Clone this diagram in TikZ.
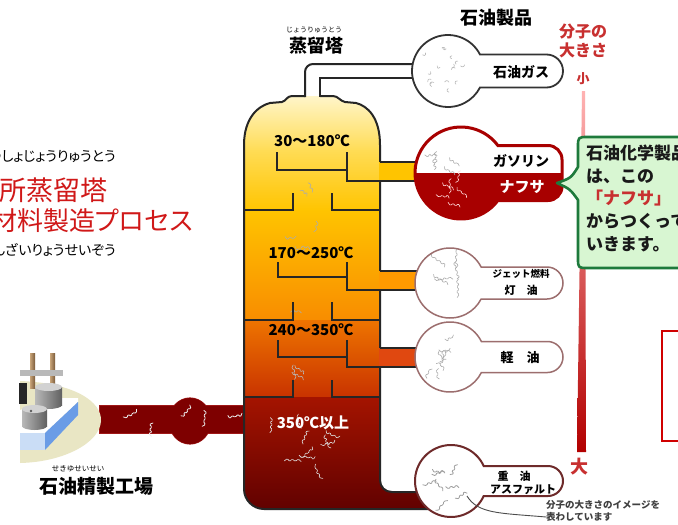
\documentclass[tikz,border=0pt]{standalone}
\usepackage{fontspec}
\newfontfamily\jp{Noto Sans CJK JP}
\newfontfamily\jpprop{Noto Sans CJK JP}[RawFeature=+palt]
\usetikzlibrary{calc}

\definecolor{towA}{HTML}{FFF8D6}
\definecolor{towB}{HTML}{FFDC55}
\definecolor{towC}{HTML}{FFC400}
\definecolor{towD}{HTML}{F88C00}
\definecolor{towE}{HTML}{EE7400}
\definecolor{towF}{HTML}{C83200}
\definecolor{towG}{HTML}{A41400}
\definecolor{towH}{HTML}{5E0000}
\definecolor{pipeY}{HTML}{FFC400}
\definecolor{pipeO}{HTML}{FF9A00}
\definecolor{pipeR}{HTML}{E04810}
\definecolor{naph}{HTML}{A80000}
\definecolor{flaskline}{HTML}{9C6E6E}
\definecolor{asphline}{HTML}{6E2A2A}
\definecolor{feedred}{HTML}{7E0000}
\definecolor{feededge}{HTML}{A01818}
\definecolor{beige}{HTML}{E9E6C4}
\definecolor{slabfront}{HTML}{CADDF6}
\definecolor{slabside}{HTML}{6A9CE6}
\definecolor{rodA}{HTML}{C8A478}
\definecolor{rodB}{HTML}{7A5A3A}
\definecolor{calloutfill}{HTML}{D8F6D2}
\definecolor{calloutline}{HTML}{1E7A3C}
\definecolor{sizered}{HTML}{C83030}
\definecolor{boxred}{HTML}{D00000}
\definecolor{leftred}{HTML}{D01818}

% flask outline: bulb of radius r at (cx,cy) with a tab of half height h reaching x = R
\newcommand\flaskpath[7]{%
  \pgfmathsetmacro\fa{asin(#4/#3)}%
  \path[#7] (#1,#2) ++(-\fa:#3) arc[start angle=-\fa, end angle=-360+\fa, radius=#3]
    -- (#5-#6,#2+#4) arc[start angle=90, end angle=0, radius=#6]
    -- (#5,#2-#4+#6) arc[start angle=0, end angle=-90, radius=#6] -- cycle;
}
% scattered zig-zag chains standing for molecules
\newcommand\molspray[7]{%
  \foreach \k in {1,...,#4} {%
    \pgfmathsetmacro\ma{360*rnd}%
    \pgfmathsetmacro\mr{#3*sqrt(rnd)}%
    \pgfmathsetmacro\md{360*rnd}%
    \draw[#7] (#1,#2) ++(\ma:\mr)
      \foreach \s in {1,...,#5} { -- ++({\md+50*(2*mod(\s,2)-1)+30*rnd-15}:#6) };
  }%
}

\begin{document}
\begin{tikzpicture}[x=1pt,y=-1pt,
  jpb/.style={font=\jp\bfseries\fontsize{#1}{#1}\selectfont, inner sep=0pt},
  jpr/.style={font=\jp\fontsize{#1}{#1}\selectfont, inner sep=0pt},
  jpp/.style={font=\jpprop\fontsize{#1}{#1}\selectfont, inner sep=0pt},
  wall/.style={draw=black!85, line width=2pt},
  tray/.style={draw=black!85, line width=1.6pt},
  mol/.style={draw=gray!65, line width=0.6pt, line join=round, line cap=round, rounded corners=1.2pt},
]
\useasboundingbox (0,0) rectangle (678,525);
\clip (0,0) rectangle (678,525);
\fill[white] (0,0) rectangle (678,525);
\pgfmathsetseed{12}

% ---- caption on the left
\node[jpp=14, anchor=east] (furiA) at (116,157) {せいゆしょじょうりゅうとう};
\node[jpp=27, anchor=east, text=leftred] (capA) at (108,190) {製油所蒸留塔};
\node[jpp=26, anchor=east, text=leftred] (capB) at (193,221) {原材料製造プロセス};
\node[jpp=14, anchor=east] (furiB) at (116,250) {げんざいりょうせいぞう};

% ---- headings
\node[jpr=7] (furiTower) at (314,30) {じょうりゅうとう};
\node[jpb=18] (tower) at (316,46) {蒸留塔};
\node[jpb=18] (products) at (496,18) {石油製品};

% ---- tower body
\begin{scope}
  \clip (244,145) .. controls (244,118) and (258,106) .. (270,103) -- (282,102)
    .. controls (286,101) and (287,96) .. (292,96) -- (333,96)
    .. controls (338,96) and (340,101) .. (345,102) -- (356,103)
    .. controls (368,106) and (380,118) .. (380,145) -- (380,480)
    .. controls (380,487) and (385,492) .. (392,492) -- (440,492) -- (440,509)
    -- (264,509) .. controls (253,509) and (244,500) .. (244,489) -- cycle;
  \shade[top color=towA, bottom color=towB] (230,90) rectangle (450,151);
  \shade[top color=towB, bottom color=towC] (230,150) rectangle (450,211);
  \shade[top color=towC, bottom color=towD] (230,210) rectangle (450,321);
  \shade[top color=towE, bottom color=towF] (230,320) rectangle (450,398);
  \shade[top color=towG, bottom color=towH] (230,397) rectangle (450,515);
  \molspray{310}{192}{8}{2}{4}{4}{mol}
  \molspray{300}{242}{22}{4}{4}{4}{mol}
  \molspray{305}{310}{6}{1}{4}{4}{mol}
  \molspray{290}{372}{10}{3}{5}{4}{mol, draw=gray!55}
  \molspray{300}{440}{32}{10}{6}{4}{mol, draw=gray!25}
\end{scope}

% feed pipe from the refinery
\draw[feededge, line width=1.2pt] (100,406) rectangle (243,433);
\draw[feededge, line width=1.2pt] (190,421) ellipse [x radius=21, y radius=23];
\fill[feedred] (100,406) rectangle (243,433);
\fill[feedred] (190,421) ellipse [x radius=21, y radius=23];
\foreach \cx/\cy in {122/419, 150/422, 178/418, 200/424, 228/419}
  \molspray{\cx}{\cy}{4}{1}{6}{4}{mol, draw=white!85!gray, line width=0.8pt};

% tower outline and the vapour line to the top flask
\draw[wall] (305,96) -- (292,96) .. controls (287,96) and (286,101) .. (282,102)
  -- (270,103) .. controls (258,106) and (244,118) .. (244,145) -- (244,489)
  .. controls (244,500) and (253,509) .. (264,509) -- (440,509);
\draw[wall] (440,492) -- (392,492) .. controls (385,492) and (380,487) .. (380,480)
  -- (380,145) .. controls (380,118) and (368,106) .. (356,103) -- (345,102)
  .. controls (340,101) and (338,96) .. (333,96) -- (320,96);
\draw[wall, rounded corners=8] (305,97) -- (305,64) -- (416,64);
\draw[wall] (320,97) -- (320,78) -- (416,78);

% side draw pipes
\fill[pipeY] (379,162) rectangle (421,181);
\fill[pipeO] (379,271) rectangle (421,290);
\fill[pipeR] (379,348) rectangle (421,367);

% trays and downcomers
\draw[tray] (277,152) -- (277,170) -- (347,170);
\draw[tray] (347,152) -- (347,181) -- (421,181);
\draw[tray] (380,162) -- (421,162);
\draw[tray] (244,210) -- (293,210) -- (293,193);
\draw[tray] (380,210) -- (332,210) -- (332,193);

\draw[tray] (278,262) -- (278,277) -- (347,277);
\draw[tray] (347,262) -- (347,290) -- (421,290);
\draw[tray] (380,271) -- (421,271);
\draw[tray] (244,320) -- (293,320) -- (293,302);
\draw[tray] (380,320) -- (332,320) -- (332,302);

\draw[tray] (278,340) -- (278,357) -- (347,357);
\draw[tray] (347,340) -- (347,367) -- (421,367);
\draw[tray] (380,348) -- (421,348);
\draw[tray] (244,397) -- (293,397) -- (293,380);
\draw[tray] (380,397) -- (332,397) -- (332,380);

% temperature ranges
\node[jpb=15] (t1) at (312,141) {30～180℃};
\node[jpb=15] (t2) at (311,253) {170～250℃};
\node[jpb=15] (t3) at (311,330) {240～350℃};
\node[jpb=15, text=white] (t4) at (313,423) {350℃以上};

% ---- product flasks
% petroleum gas
\flaskpath{448}{71}{36}{16.5}{563}{16.5}{fill=white}
\molspray{440}{71}{24}{16}{2}{3}{mol, draw=gray!55}
\flaskpath{448}{71}{36}{16.5}{563}{16.5}{draw=black!80, line width=1.8pt}
\node[jpb=14] (gas) at (521,72) {石油ガス};

% gasoline / naphtha
\flaskpath{461}{173}{46}{27.5}{562}{14}{fill=white}
\begin{scope}
  \flaskpath{461}{173}{46}{27.5}{562}{14}{clip}
  \fill[naph] (400,173) rectangle (570,230);
  \molspray{450}{152}{17}{5}{5}{4}{mol}
  \molspray{450}{196}{17}{6}{5}{4}{mol, draw=red!15}
\end{scope}
\flaskpath{461}{173}{46}{27.5}{562}{14}{draw=naph, line width=3pt}
\node[jpb=14] (gasoline) at (521,161) {ガソリン};
\node[jpb=15, text=white] (naphtha) at (522,187) {ナフサ};

% jet fuel / kerosene
\flaskpath{450}{283}{35}{16}{563}{16}{fill=white}
\molspray{446}{283}{19}{6}{7}{4}{mol}
\flaskpath{450}{283}{35}{16}{563}{16}{draw=flaskline, line width=1.5pt}
\node[jpb=9.5] (jet) at (521,274) {ジェット燃料};
\node[jpb=11] (kerosene) at (521,290) {灯　油};

% gas oil
\flaskpath{450}{357}{35}{15.5}{563}{15.5}{fill=white}
\molspray{446}{357}{19}{9}{4}{4}{mol}
\flaskpath{450}{357}{35}{15.5}{563}{15.5}{draw=flaskline, line width=1.5pt}
\node[jpb=13] (gasoil) at (520,358) {軽　油};

% heavy oil / asphalt
\flaskpath{451}{481}{36}{15}{563}{15}{fill=white}
\molspray{446}{481}{20}{8}{5}{4}{mol, draw=gray!75, line width=0.8pt}
\flaskpath{451}{481}{36}{15}{563}{15}{draw=asphline, line width=2pt}
\node[jpb=11] (heavy) at (514,476) {重　油};
\node[jpb=11] (asphalt) at (523,490) {アスファルト};

% note on the molecule pictures
\node[jpb=9.5, anchor=west, text=black!75] (noteA) at (546,505) {分子の大きさのイメージを};
\node[jpb=9.5, anchor=west, text=black!75] (noteB) at (546,517) {表わしています};
\coordinate (molA) at (467,496);
\draw[black!70, line width=0.9pt] (molA) .. controls (478,514) and (500,513) .. (noteB.west);

% ---- molecule size scale
\node[jpb=16, text=sizered] (sizeA) at (583,32) {分子の};
\node[jpb=16, text=sizered] (sizeB) at (583,50) {大きさ};
\node[jpb=13, text=sizered] (small) at (583,79) {小};
\node[jpb=18, text=sizered] (large) at (579,467) {大};
\shade[top color=red!30!white, bottom color=red!70!black] (582,91) -- (585,91) -- (586,452) -- (577,452) -- cycle;

% ---- callout
\path[fill=calloutfill, draw=calloutline, line width=2.6pt, line join=round]
  (588,137) -- (720,137) -- (720,268) -- (588,268) .. controls (578,268) .. (578,258)
  -- (578,200) .. controls (570,189) .. (557,183) .. controls (571,178) .. (578,167)
  -- (578,147) .. controls (578,137) .. (588,137) -- cycle;
\node[jpb=17, anchor=west, text=black!90] (cA) at (586,153) {石油化学製品};
\node[jpb=17, anchor=west, text=black!90] (cB) at (586,176) {は、この};
\node[jpb=17, anchor=west, text=sizered] (cC) at (586,198) {「ナフサ」};
\node[jpb=17, anchor=west, text=black!90] (cD) at (586,221) {からつくって};
\node[jpb=17, anchor=west, text=black!90] (cE) at (586,244) {いきます。};

% empty red frame
\draw[boxred, line width=1.3pt] (662,331) rectangle (700,441);

% ---- refinery
\fill[beige] (20,381) .. controls (75,383) and (102,402) .. (101,421)
  .. controls (100,442) and (65,462) .. (20,463) -- cycle;
\fill[white] (20,410) -- (58,398) -- (78,398) -- (78,402) -- (45,433) -- (20,433) -- cycle;
\fill[slabfront] (20,433) rectangle (45,450);
\fill[slabside] (45,433) -- (78,402) -- (78,415) -- (45,450) -- cycle;
\fill[gray!30!black] (19,383) rectangle (27,404);
\shade[left color=rodA, right color=rodB] (30,353) rectangle (35,388);
\shade[left color=rodA, right color=rodB] (50,353) rectangle (55,388);
\fill[gray!55] (20,370) rectangle (63,376);
\shade[left color=gray!55, middle color=gray!20, right color=gray!75!black] (35,387) rectangle (62,405);
\shade[left color=gray!55, middle color=gray!20, right color=gray!75!black] (48.5,405) ellipse [x radius=13.5, y radius=4];
\fill[gray!35] (48.5,387) ellipse [x radius=13.5, y radius=4];
\shade[left color=gray!55, middle color=gray!20, right color=gray!75!black] (22,409) rectangle (47,426);
\shade[left color=gray!55, middle color=gray!20, right color=gray!75!black] (34.5,426) ellipse [x radius=12.5, y radius=4];
\fill[gray!35] (34.5,409) ellipse [x radius=12.5, y radius=4];
\fill[gray!70!black] (31,411) circle (1.4);
\node[jpr=7.5] (furiRef) at (78,469) {せきゆせいせい};
\node[jpb=19] (refinery) at (96,486) {石油精製工場};
\end{tikzpicture}
\end{document}
